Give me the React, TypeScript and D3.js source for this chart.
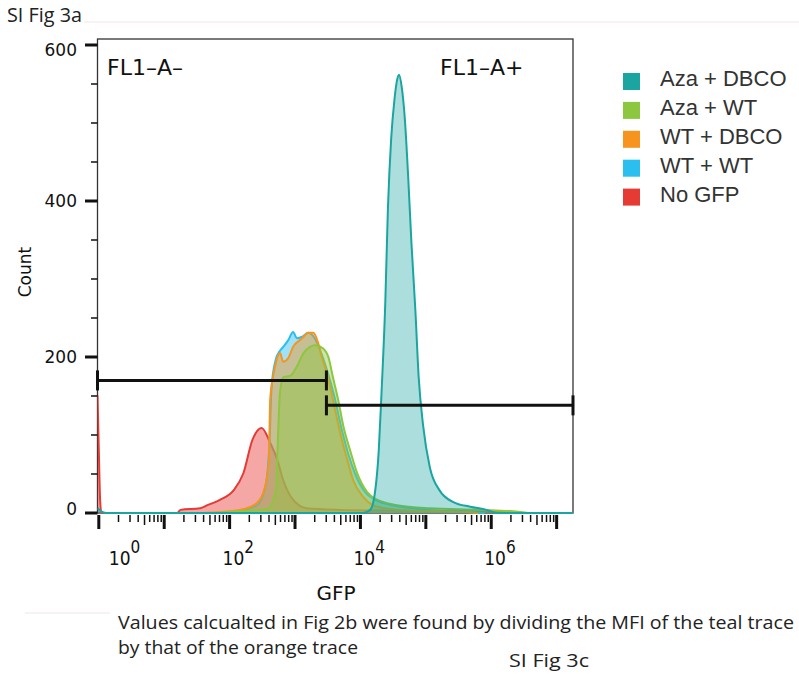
import React from "react";
import * as d3 from "d3";

const W = 799;
const H = 674;

// histogram traces: [log10(GFP), count]
const azaDbco: [number, number][] = [
  [-0.02, 6], [0.06, 1], [0.12, 0], [4.04, 0], [4.15, 4], [4.22, 25], [4.28, 80], [4.32, 150],
  [4.38, 270], [4.42, 390], [4.47, 480], [4.52, 530], [4.56, 555], [4.59, 562], [4.63, 547],
  [4.68, 504], [4.73, 431], [4.78, 346], [4.84, 260], [4.89, 175], [4.96, 111], [5.06, 59],
  [5.21, 29], [5.42, 14], [5.68, 8], [5.93, 4], [6.08, 0], [7.25, 0],
];
const azaWt: [number, number][] = [
  [1.8, 0], [1.95, 1], [2.27, 3], [2.57, 5], [2.67, 17], [2.71, 30], [2.74, 100], [2.77, 154],
  [2.82, 174], [2.93, 176], [3.03, 188], [3.13, 205], [3.23, 213], [3.31, 215], [3.43, 211],
  [3.51, 200], [3.58, 174], [3.66, 145], [3.74, 111], [3.84, 81], [3.95, 51], [4.1, 27],
  [4.25, 17], [4.56, 10], [5.06, 6], [5.83, 4], [6.48, 1], [6.56, 0],
];
const wtDbco: [number, number][] = [
  [1.6, 0], [1.8, 1], [2.16, 4], [2.42, 13], [2.54, 33], [2.6, 68], [2.62, 145], [2.65, 167],
  [2.7, 190], [2.77, 205], [2.82, 194], [2.9, 199], [2.97, 213], [3.08, 222], [3.13, 226],
  [3.2, 231], [3.28, 231], [3.35, 219], [3.41, 200], [3.49, 179], [3.58, 145], [3.69, 103],
  [3.8, 68], [3.89, 42], [4.04, 21], [4.19, 10], [4.38, 6], [4.8, 3], [5.5, 2], [5.8, 0],
];
const wtWt: [number, number][] = [
  [1.85, 0], [2.1, 2], [2.42, 10], [2.55, 35], [2.61, 90], [2.64, 160], [2.7, 195], [2.77, 208],
  [2.82, 213], [2.9, 222], [2.97, 232], [3.03, 224], [3.11, 226], [3.2, 231], [3.3, 224],
  [3.4, 205], [3.5, 180], [3.6, 150], [3.72, 105], [3.82, 74], [3.92, 50], [4.07, 27], [4.25, 16],
  [4.5, 10], [4.8, 6], [5.2, 3], [5.7, 1], [5.9, 0],
];
const noGfp: [number, number][] = [
  [-0.02, 151], [0.0, 81], [0.02, 17], [0.04, 0], [1.2, 0], [1.25, 4], [1.55, 6], [1.66, 10],
  [1.86, 17], [2.06, 29], [2.21, 51], [2.35, 94], [2.49, 109], [2.62, 90], [2.73, 68], [2.82, 42],
  [2.97, 17], [3.18, 6], [3.69, 4], [4.5, 3], [6.3, 2], [6.4, 0],
];

const legendNames = ["Aza + DBCO", "Aza + WT", "WT + DBCO", "WT + WT", "No GFP"];
const legendColors = ["#1aa5a0", "#8dc63f", "#f7941d", "#2bbfef", "#e63b35"];

// draw order bottom -> top
const traces = [
  { data: noGfp, color: "#e63b35", alpha: 0.45 },
  { data: wtWt, color: "#2bbfef", alpha: 0.45 },
  { data: wtDbco, color: "#f7941d", alpha: 0.45 },
  { data: azaWt, color: "#8dc63f", alpha: 0.45 },
  { data: azaDbco, color: "#1aa5a0", alpha: 0.37 },
];

// gates: [from log10, to log10, count]
const gates: [number, number, number][] = [
  [-0.02, 3.48, 170],
  [3.48, 7.25, 138],
];

const yMajor = [0, 200, 400, 600];
const yMinor = [50, 100, 150, 250, 300, 350, 450, 500, 550];
const xDecades = [0, 1, 2, 3, 4, 5, 6, 7];
const xLabelExps = [0, 2, 4, 6];

export default function App() {
  const left = 97.5, right = 573, top = 39, bottom = 513;
  const x = d3.scaleLog().domain([10 ** -0.02, 10 ** 7.25]).range([left, right]);
  const y = d3.scaleLinear().domain([0, 600]).range([bottom, 45]);

  const area = d3.area<[number, number]>()
    .x(d => x(10 ** d[0]))
    .y0(bottom)
    .y1(d => y(d[1]))
    .curve(d3.curveMonotoneX);
  const line = d3.line<[number, number]>()
    .x(d => x(10 ** d[0]))
    .y(d => y(d[1]))
    .curve(d3.curveMonotoneX);

  const minor: { v: number; k: number }[] = [];
  xDecades.slice(0, 7).forEach(d => {
    for (let k = 2; k <= 9; k++) minor.push({ v: k * 10 ** d, k });
  });

  const sans = "DejaVu Sans, sans-serif";
  const helv = "Liberation Sans, Arial, sans-serif";
  const note = "Open Sans, Liberation Sans, sans-serif";

  return (
    <svg width={W} height={H} style={{ display: "block", position: "absolute", left: 0, top: 0 }}>
      <rect width={W} height={H} fill="#fff" />
      <text x={7} y={22} fontSize={20} fontFamily={note} fill="#222" textLength={75} lengthAdjust="spacingAndGlyphs">SI Fig 3a</text>
      <line x1={84} x2={W} y1={22} y2={22} stroke="#f1e6e6" strokeWidth={1} />
      <line x1={25} x2={110} y1={613} y2={613} stroke="#f1e6e6" strokeWidth={1} />

      <defs>
        <clipPath id="plot">
          <rect x={left} y={top} width={right - left} height={bottom - top + 2} />
        </clipPath>
      </defs>

      <rect x={left} y={top} width={right - left} height={bottom - top} fill="#fff" stroke="#333" strokeWidth={1.3} />

      <g clipPath="url(#plot)">
        {traces.map((t, i) => (
          <g key={i}>
            <path d={area(t.data) || ""} fill={t.color} fillOpacity={t.alpha} />
            <path d={line(t.data) || ""} fill="none" stroke={t.color} strokeWidth={2} />
          </g>
        ))}
      </g>

      {/* gates */}
      {gates.map((g, i) => {
        const x1 = x(10 ** g[0]), x2 = x(10 ** g[1]), gy = y(g[2]);
        return (
          <g key={i} stroke="#111" strokeWidth={3}>
            <line x1={x1} x2={x2} y1={gy} y2={gy} />
            <line x1={x1} x2={x1} y1={gy - 10} y2={gy + 10} />
            <line x1={x2} x2={x2} y1={gy - 10} y2={gy + 10} />
          </g>
        );
      })}

      <text x={107} y={75} fontSize={22} fontFamily={sans} fill="#111">FL1–A–</text>
      <text x={440} y={75} fontSize={22} fontFamily={sans} fill="#111">FL1–A+</text>

      {/* y axis */}
      {yMajor.map(v => (
        <g key={v}>
          <line x1={85} x2={left} y1={y(v)} y2={y(v)} stroke="#111" strokeWidth={3} />
          <text x={77} y={y(v) + (v === 600 ? 5 : v === 0 ? -4 : 0)} dy="0.35em" textAnchor="end"
            fontSize={17} fontFamily={sans} fill="#111">{v}</text>
        </g>
      ))}
      {yMinor.map(v => (
        <line key={v} x1={91} x2={left} y1={y(v)} y2={y(v)} stroke="#111" strokeWidth={1.5} />
      ))}
      <text transform="translate(31,272) rotate(-90)" textAnchor="middle" fontSize={17} fontFamily={sans} fill="#111">Count</text>

      {/* x axis */}
      {xDecades.map(d => (
        <line key={d} x1={x(10 ** d)} x2={x(10 ** d)} y1={515} y2={529} stroke="#111" strokeWidth={3} />
      ))}
      {minor.map((m, i) => (
        <line key={i} x1={x(m.v)} x2={x(m.v)} y1={515} y2={m.k === 5 ? 525 : 522} stroke="#111" strokeWidth={1.5} />
      ))}
      {xLabelExps.map(e => (
        <text key={e} x={x(10 ** e) + (e === 0 ? 10 : -7)} y={565} fontSize={19}
          fontFamily="DejaVu Sans Condensed, DejaVu Sans, sans-serif" fill="#111">
          10<tspan dy={-12} fontSize={17}>{e}</tspan>
        </text>
      ))}
      <text x={336} y={600} textAnchor="middle" fontSize={20} fontFamily={sans} fill="#111">GFP</text>

      {/* legend */}
      {legendNames.map((n, i) => (
        <g key={n}>
          <rect x={623} y={73 + i * 28.9} width={17} height={17} fill={legendColors[i]} />
          <text x={660} y={86 + i * 28.9} fontSize={22} fontFamily={helv} fill="#333">{n}</text>
        </g>
      ))}

      {/* notes */}
      <text x={118} y={629} fontSize={19} fontFamily={note} fill="#222" textLength={676} lengthAdjust="spacingAndGlyphs">
        Values calcualted in Fig 2b were found by dividing the MFI of the teal trace
      </text>
      <text x={118} y={654} fontSize={19} fontFamily={note} fill="#222" textLength={240} lengthAdjust="spacingAndGlyphs">
        by that of the orange trace
      </text>
      <text x={509} y={667} fontSize={19} fontFamily={note} fill="#222" textLength={80} lengthAdjust="spacingAndGlyphs">
        SI Fig 3c
      </text>
    </svg>
  );
}
